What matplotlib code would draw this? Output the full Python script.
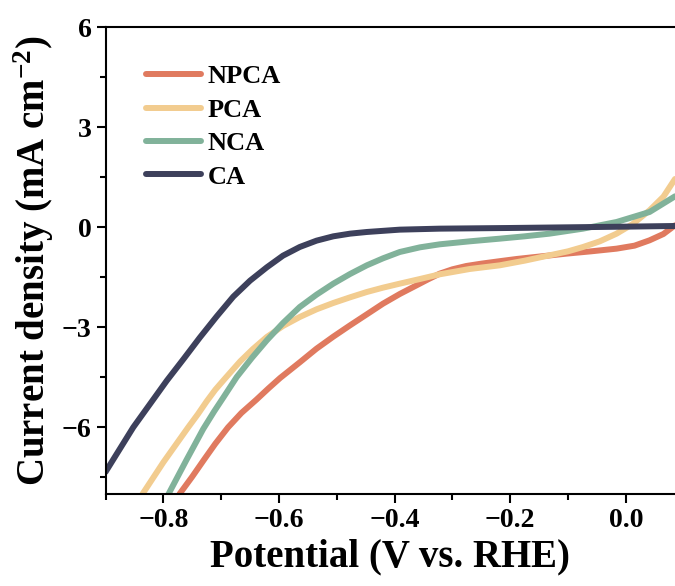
import numpy as np
import matplotlib
matplotlib.use('Agg')
import matplotlib.pyplot as plt
from matplotlib.ticker import MultipleLocator

plt.rcParams['font.family'] = ['Liberation Serif', 'DejaVu Serif']
plt.rcParams['font.weight'] = 'bold'
plt.rcParams['mathtext.fontset'] = 'custom'
plt.rcParams['mathtext.rm'] = 'Liberation Serif:bold'
plt.rcParams['mathtext.bf'] = 'Liberation Serif:bold'
plt.rcParams['mathtext.default'] = 'rm'

# LSV curves (potential in V vs RHE, current density in mA cm-2)
npca_x = [-0.772, -0.75, -0.73, -0.71, -0.688, -0.665, -0.639, -0.618, -0.598, -0.564,
          -0.535, -0.506, -0.477, -0.448, -0.42, -0.391, -0.362, -0.342, -0.322, -0.3,
          -0.276, -0.25, -0.22, -0.189, -0.146, -0.103, -0.06, -0.016, 0.015, 0.041,
          0.065, 0.085]
npca_y = [-8.0, -7.48, -6.98, -6.49, -6.0, -5.57, -5.17, -4.83, -4.52, -4.05,
          -3.64, -3.28, -2.94, -2.61, -2.29, -2.0, -1.74, -1.56, -1.39, -1.26,
          -1.16, -1.09, -1.02, -0.95, -0.87, -0.79, -0.72, -0.64, -0.55, -0.39,
          -0.2, 0.06]

pca_x = [-0.836, -0.8, -0.757, -0.74, -0.725, -0.71, -0.693, -0.667, -0.645, -0.621,
         -0.593, -0.564, -0.535, -0.506, -0.477, -0.448, -0.42, -0.391, -0.356, -0.322,
         -0.27, -0.218, -0.175, -0.132, -0.1, -0.074, -0.045, -0.016, 0.012, 0.041,
         0.065, 0.085]
pca_y = [-8.0, -7.05, -6.0, -5.6, -5.22, -4.87, -4.53, -4.02, -3.65, -3.29,
         -2.96, -2.69, -2.46, -2.27, -2.1, -1.94, -1.81, -1.69, -1.55, -1.41,
         -1.25, -1.14, -1.0, -0.84, -0.72, -0.59, -0.42, -0.19, 0.1, 0.51,
         0.92, 1.45]

nca_x = [-0.791, -0.76, -0.731, -0.712, -0.696, -0.673, -0.647, -0.621, -0.593, -0.564,
         -0.535, -0.506, -0.477, -0.448, -0.42, -0.391, -0.356, -0.322, -0.27, -0.218,
         -0.175, -0.132, -0.074, -0.016, 0.041, 0.085]
nca_y = [-8.0, -6.98, -6.05, -5.52, -5.1, -4.49, -3.92, -3.39, -2.87, -2.39,
         -2.02, -1.69, -1.4, -1.14, -0.93, -0.74, -0.6, -0.51, -0.42, -0.34,
         -0.27, -0.19, -0.04, 0.16, 0.46, 0.93]

ca_x = [-0.9, -0.852, -0.823, -0.794, -0.765, -0.737, -0.708, -0.679, -0.65, -0.621,
        -0.593, -0.564, -0.535, -0.506, -0.477, -0.448, -0.391, -0.322, -0.2, -0.1,
        0.0, 0.085]
ca_y = [-7.34, -6.0, -5.3, -4.6, -3.95, -3.31, -2.68, -2.08, -1.6, -1.2,
        -0.85, -0.59, -0.4, -0.27, -0.19, -0.14, -0.07, -0.04, -0.02, 0.0,
        0.02, 0.04]

labels = ['NPCA', 'PCA', 'NCA', 'CA']
colors = ['#e07a5f', '#f2cc8f', '#81b29a', '#3d405b']
curves = [(npca_x, npca_y), (pca_x, pca_y), (nca_x, nca_y), (ca_x, ca_y)]

fig = plt.figure(figsize=(6.75, 5.86), dpi=100)
ax = fig.add_axes([0.1563, 0.157, 0.8437, 0.7964])

for (x, y), lab, c in zip(curves, labels, colors):
    ax.plot(x, y, color=c, lw=4.3, label=lab, solid_capstyle='round',
            solid_joinstyle='round')

ax.set_xlim(-0.9, 0.085)
ax.set_ylim(-8, 6)
ax.xaxis.set_major_locator(MultipleLocator(0.2))
ax.xaxis.set_minor_locator(MultipleLocator(0.1))
ax.yaxis.set_major_locator(MultipleLocator(3))
ax.yaxis.set_minor_locator(MultipleLocator(1.5))
ax.tick_params(which='major', direction='out', length=6.5, width=1.5, labelsize=20)
ax.tick_params(which='minor', direction='out', length=4, width=1.5)
for lbl in ax.get_xticklabels() + ax.get_yticklabels():
    lbl.set_fontweight('bold')

for s in ['left', 'bottom', 'top']:
    ax.spines[s].set_linewidth(1.5)
ax.spines['right'].set_visible(False)

ax.set_xlabel('Potential (V vs. RHE)', fontsize=28, fontweight='bold', labelpad=4)
ax.set_ylabel('Current density (mA cm$^{-2}$)', fontsize=28, fontweight='bold', labelpad=4)

leg = ax.legend(loc='upper left', bbox_to_anchor=(0.052, 0.942), frameon=False,
                prop={'size': 19, 'weight': 'bold'}, handlelength=2.1,
                handletextpad=0.25, labelspacing=0.375, borderaxespad=0)

fig.savefig('out.png', dpi=100)
